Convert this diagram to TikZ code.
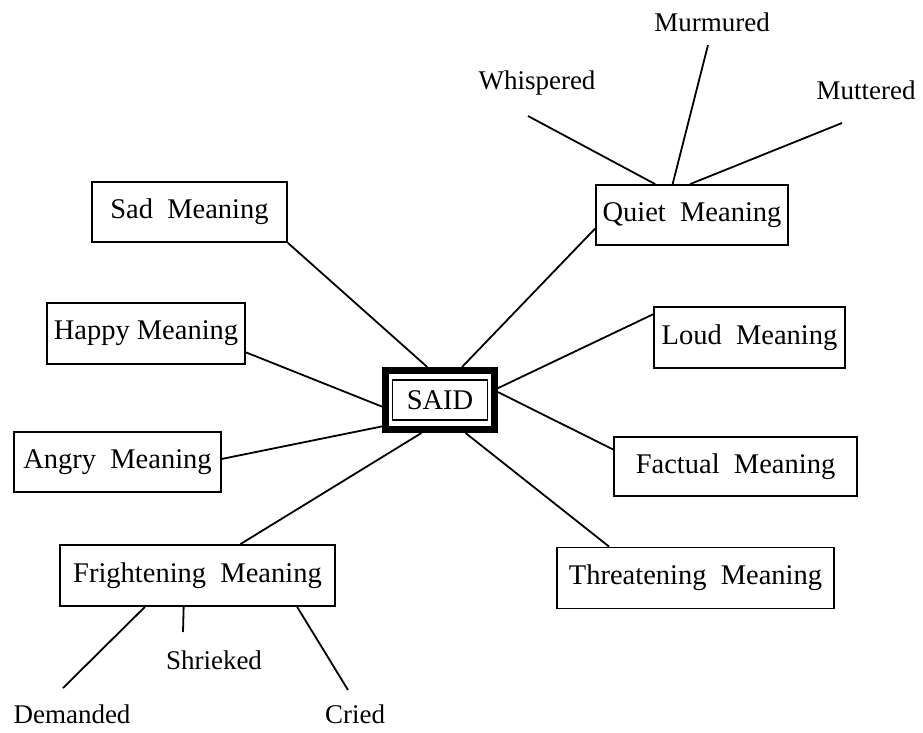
\documentclass[tikz,border=0pt]{standalone}
\usepackage{fontspec}
\setmainfont{Liberation Serif}
\usetikzlibrary{calc}
\begin{document}
\begin{tikzpicture}[x=1pt,y=-1pt,
  box/.style={draw, line width=1.8pt, inner sep=0pt, font=\fontsize{28.5}{31}\selectfont},
  lbl/.style={inner sep=0pt, font=\fontsize{27}{30}\selectfont},
  link/.style={line width=1.8pt}]
\useasboundingbox[fill=white] (0,0) rectangle (923,732);
% category boxes
\node[box, minimum width=195pt, minimum height=60pt] (sad) at (189.5,212) {Sad\ \ Meaning};
\node[box, minimum width=192pt, minimum height=60pt] (quiet) at (692,215) {Quiet\ \ Meaning};
\node[box, minimum width=198pt, minimum height=61pt] (happy) at (146,333.5) {Happy Meaning};
\node[box, minimum width=191pt, minimum height=61pt] (loud) at (749.5,337.5) {Loud\ \ Meaning};
\node[box, minimum width=207pt, minimum height=60pt] (angry) at (117.5,462) {Angry\ \ Meaning};
\node[box, minimum width=243pt, minimum height=59pt] (factual) at (735.5,466.5) {Factual\ \ Meaning};
\node[box, minimum width=275pt, minimum height=61pt] (fright) at (197.5,575.5) {Frightening\ \ Meaning};
\node[box, minimum width=277pt, minimum height=61pt] (threat) at (695.5,578) {Threatening\ \ Meaning};
% centre
\node[draw, line width=7pt, inner sep=0pt, minimum width=109pt, minimum height=59pt] (said) at (440,400) {};
\node[draw, line width=1.8pt, inner sep=0pt, minimum width=95pt, minimum height=40pt, font=\fontsize{28.5}{31}\selectfont] (saidin) at (440,400) {SAID};
% leaf labels
\node[lbl] (murmured) at (712,22) {Murmured};
\node[lbl] (whispered) at (537,83) {Whispered};
\node[lbl] (muttered) at (866,90) {Muttered};
\node[lbl] (shrieked) at (214,660) {Shrieked};
\node[lbl] (demanded) at (72,714) {Demanded};
\node[lbl] (cried) at (355,714) {Cried};
% free ends of leaf lines
\coordinate (whe) at (528,116);
\coordinate (mue) at (708,45);
\coordinate (mte) at (842,123);
\coordinate (dme) at (63,688);
\coordinate (she) at (183,632);
\coordinate (cre) at (348,690);
% connectors to SAID
\draw[link] (sad.south east) -- ($(said.north west)!0.39!(said.north east)$);
\draw[link] ($(quiet.north west)!0.72!(quiet.south west)$) -- ($(said.north west)!0.69!(said.north east)$);
\draw[link] ($(happy.north east)!0.8!(happy.south east)$) -- ($(said.north west)!0.6!(said.south west)$);
\draw[link] ($(loud.north west)!0.13!(loud.south west)$) -- ($(said.north east)!0.32!(said.south east)$);
\draw[link] ($(angry.north east)!0.45!(angry.south east)$) -- ($(said.north west)!0.9!(said.south west)$);
\draw[link] ($(factual.north west)!0.22!(factual.south west)$) -- ($(said.north east)!0.38!(said.south east)$);
\draw[link] ($(fright.north west)!0.655!(fright.north east)$) -- ($(said.south west)!0.34!(said.south east)$);
\draw[link] ($(threat.north west)!0.19!(threat.north east)$) -- ($(said.south west)!0.72!(said.south east)$);
% leaf connectors
\draw[link] ($(quiet.north west)!0.31!(quiet.north east)$) -- (whe);
\draw[link] ($(quiet.north west)!0.40!(quiet.north east)$) -- (mue);
\draw[link] ($(quiet.north west)!0.49!(quiet.north east)$) -- (mte);
\draw[link] ($(fright.south west)!0.31!(fright.south east)$) -- (dme);
\draw[link] ($(fright.south west)!0.45!(fright.south east)$) -- (she);
\draw[link] ($(fright.south west)!0.86!(fright.south east)$) -- (cre);
\end{tikzpicture}
\end{document}
